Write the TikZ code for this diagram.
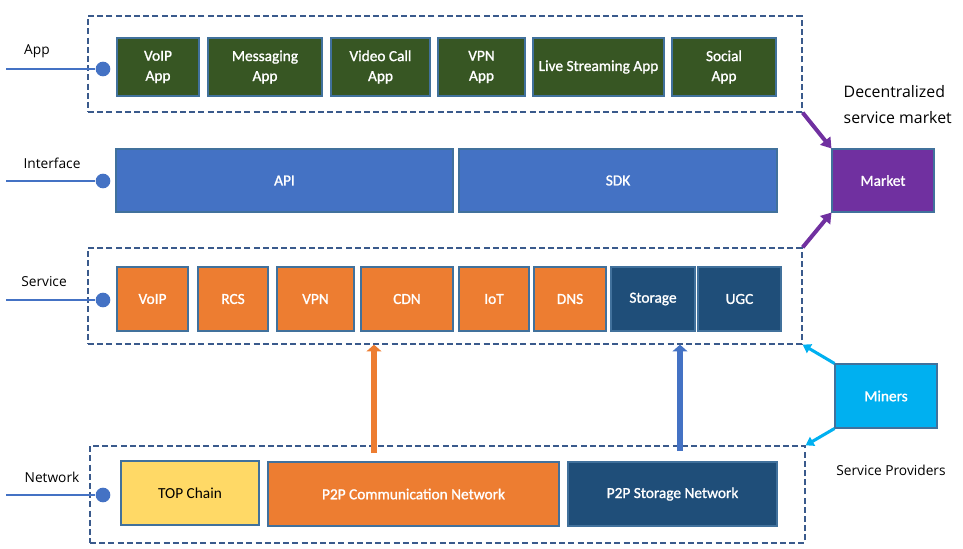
\documentclass[tikz,border=0pt]{standalone}
\usepackage{fontspec}
\setmainfont{Carlito}
\newfontfamily\labelfont{Open Sans}
\newfontfamily\boxfont[FakeBold=1.2]{Carlito}
\usetikzlibrary{positioning,arrows.meta}
\definecolor{appgreen}{HTML}{375623}
\definecolor{ifblue}{HTML}{4472C4}
\definecolor{svcorange}{HTML}{ED7D31}
\definecolor{stdark}{HTML}{1F4E79}
\definecolor{mktpurple}{HTML}{7030A0}
\definecolor{minercyan}{HTML}{00B0F0}
\definecolor{chainyellow}{HTML}{FFD966}
\definecolor{edgeblue}{HTML}{41719C}
\definecolor{framegrey}{HTML}{3A5A8C}

\begin{document}
\begin{tikzpicture}[x=0.75pt,y=-0.75pt,
                every node/.append style = {font=\boxfont\fontsize{11.5}{15}\selectfont},
                span/.style n args = {4}{minimum width={(#3-#1)*0.75pt}, minimum height={(#4-#2)*0.75pt},
                    at={({(#1+#3)/2},{(#2+#4)/2})}},
                blk/.style = {draw=edgeblue, line width=0.8pt, inner sep=0pt, text=white, align=center},
                layer/.style = {draw=framegrey, dash pattern=on 4.5pt off 2.4pt, line width=1pt, inner sep=0pt},
                tag/.style = {font=\labelfont\fontsize{10.3}{12}\selectfont},
                dot/.style = {circle, fill=ifblue, inner sep=0pt, minimum size=11pt},
                rail/.style = {ifblue, line width=2.2pt},
                bigup/.style = {line width=4.5pt, -{Triangle[length=5pt,width=11pt]}},
                diag/.style = {line width=3pt, -{Triangle[length=7.5pt,width=9.5pt]}},
                thin/.style = {line width=2.3pt, -{Triangle[length=6pt,width=7.5pt]}}]
            \useasboundingbox (0,0) rectangle (963,549);
            \node[layer, span={88}{16}{802}{112}] (appframe) {};
            \node[layer, span={88}{248}{802}{344}] (svcframe) {};
            \node[layer, span={90}{446}{805}{543}] (netframe) {};
            \foreach \nm/\y/\lx/\ly/\txt in {app/69/37/51/App, ifc/181/52/163/Interface,
                    svc/300/44/282/Service, net/495/52/477/Network}{
                \coordinate (\nm end) at (6,\y);
                \node[dot] (\nm dot) at (103,\y) {};
                \draw[rail] (\nm end) -- (\nm dot);
                \node[tag] (\nm tag) at (\lx,\ly) {\txt};
            }
            \foreach \nm/\xa/\xb/\txt in {voipapp/117/199/VoIP\\App, msgapp/208/322/Messaging\\App,
                    callapp/331/430/Video Call\\App, vpnapp/438/525/VPN\\App,
                    liveapp/533/664/Live Streaming App, socialapp/672/776/Social\\App}
                \node[blk, fill=appgreen, span={\xa}{38}{\xb}{96}] (\nm) {\txt};
            \node[blk, fill=ifblue, span={116}{149}{453}{212}] (api) {API};
            \node[blk, fill=ifblue, span={459}{149}{777}{212}] (sdk) {SDK};
            \foreach \nm/\xa/\xb/\txt/\col in {voip/117/188/VoIP/svcorange, rcs/198/268/RCS/svcorange,
                    vpn/277/354/VPN/svcorange, cdn/361/453/CDN/svcorange, iot/459/529/IoT/svcorange,
                    dns/534/606/DNS/svcorange, storage/611/695/Storage/stdark, ugc/698/781/UGC/stdark}
                \node[blk, fill=\col, span={\xa}{267}{\xb}{331}] (\nm) {\txt};
            \node[blk, fill=chainyellow, text=black, font=\fontsize{11.5}{15}\selectfont, span={121}{461}{259}{525}] (chain) {TOP Chain};
            \node[blk, fill=svcorange, span={268}{462}{559}{526}] (commnet) {P2P Communication Network};
            \node[blk, fill=stdark, span={568}{462}{777}{526}] (storenet) {P2P Storage Network};
            \node[blk, fill=mktpurple, span={832}{149}{934}{212}] (market) {Market};
            \node[blk, fill=minercyan, span={835}{364}{937}{428}] (miners) {Miners};
            \node[tag, font=\labelfont\fontsize{11.9}{19.5}\selectfont, align=left, anchor=west] (mkttag) at (839,105) {Decentralized\\service market};
            \node[tag] (provtag) at (891,470) {Service Providers};
            \coordinate (commup) at (374,453);
            \coordinate (storeup) at (680,451);
            \draw[bigup, svcorange] (commup) -- (commup |- svcframe.south);
            \draw[bigup, ifblue] (storeup) -- (storeup |- svcframe.south);
            \draw[diag, mktpurple] (appframe.south east) -- (market.north west);
            \draw[diag, mktpurple] (svcframe.north east) -- (market.south west);
            \draw[thin, minercyan] (miners.north west) -- (svcframe.south east);
            \draw[thin, minercyan] (miners.south west) -- (netframe.north east);
            \end{tikzpicture}
\end{document}
